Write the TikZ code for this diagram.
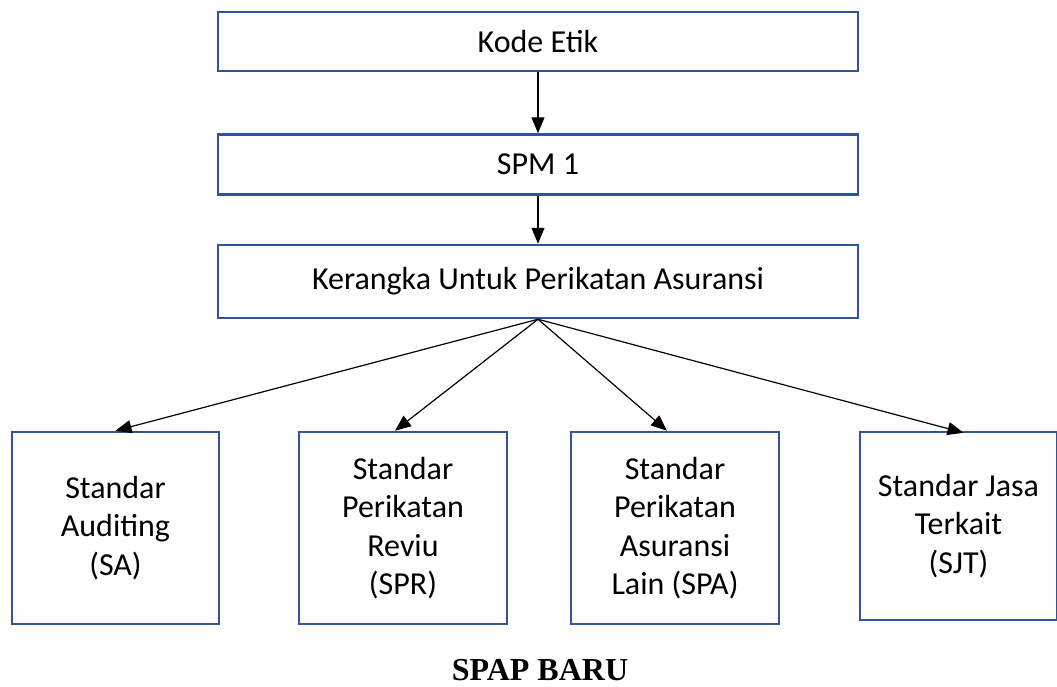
\documentclass[tikz,border=0pt]{standalone}
\usepackage{fontspec}
\setmainfont{Carlito}
\newfontfamily\titlefont{Liberation Serif}
\usetikzlibrary{arrows.meta,positioning}
\definecolor{boxblue}{RGB}{47,85,151}

\begin{document}
\begin{tikzpicture}[x=1pt,y=-1pt]
\tikzstyle{block} = [rectangle, draw=boxblue, line width=2.5pt, inner sep=0pt,
minimum width=640pt, align=center, font=\fontsize{32}{39}\selectfont]
\tikzstyle{std} = [rectangle, draw=boxblue, line width=2.5pt, inner sep=0pt,
minimum width=207pt, minimum height=192pt, align=center, font=\fontsize{32}{38.5}\selectfont]
\tikzstyle{line} = [draw, line width=1.2pt, -{Triangle[length=16pt,width=13pt]}]
\useasboundingbox (0,0) rectangle (1057,686);
% top chain
\node [block, minimum height=59pt] (kode) at (538,41.5) {Kode Etik};
\node [block, minimum height=60pt, below=61pt of kode] (spm) {SPM 1};
\node [block, minimum height=73pt, below=48pt of spm] (kerangka) {Kerangka Untuk Perikatan Asuransi};
% standards
\node [std] (sa) at (115.5,528) {Standar\\Auditing\\(SA)};
\node [std, minimum width=208pt] (spr) at (403,528) {Standar\\Perikatan\\Reviu\\(SPR)};
\node [std, minimum width=208pt] (spa) at (675,528) {Standar\\Perikatan\\Asuransi\\Lain (SPA)};
\node [std, minimum width=197pt, minimum height=188pt] (sjt) at (958.5,526) {Standar Jasa\\Terkait\\(SJT)};
\node [font=\titlefont\bfseries\fontsize{32}{38}\selectfont] (title) at (540,670) {SPAP BARU};
% arrows
\path [line] (kode) -- (spm);
\path [line] (spm) -- (kerangka);
\path [line] (kerangka.south) -- (sa.north);
\path [line] (kerangka.south) -- ([xshift=-8pt]spr.north);
\path [line] (kerangka.south) -- ([xshift=-8pt]spa.north);
\path [line] (kerangka.south) -- ([xshift=5pt,yshift=-2pt]sjt.north);
\end{tikzpicture}
\end{document}
